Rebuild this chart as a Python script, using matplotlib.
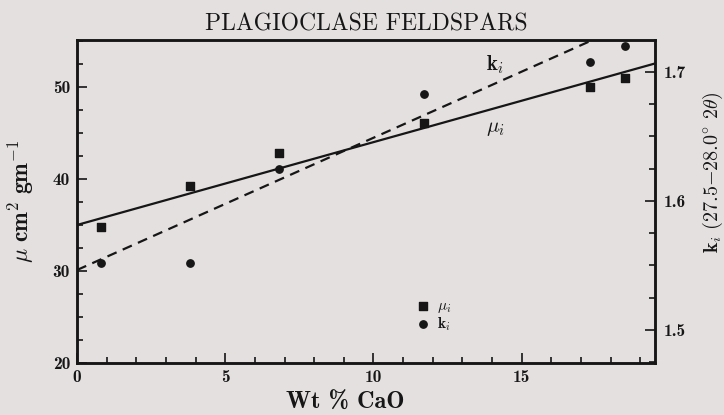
import matplotlib.pyplot as plt
import numpy as np

plt.rcParams['mathtext.fontset'] = 'cm'
plt.rcParams['axes.unicode_minus'] = False

# Wt % CaO for each plagioclase sample
cao = [0.8, 3.8, 6.8, 11.7, 17.3, 18.5]
# mass absorption coefficient (cm^2/gm)
mu = [34.8, 39.2, 42.8, 46.1, 50.0, 51.0]
# k_i intensity ratio, 27.5-28.0 deg 2theta
k = [1.552, 1.552, 1.625, 1.683, 1.708, 1.720]

# fitted lines: intercept, slope
mu_fit = (35.0, 0.90)
k_fit = (1.5465, 0.01025)

ink = '#161616'
bg = '#e4e0e0'
bold_cm = ['cmb10', 'DejaVu Serif']
tick_font = {'family': bold_cm, 'size': 12.5}

fig = plt.figure(figsize=(7.24, 4.15), dpi=100, facecolor=bg)
ax = fig.add_axes([0.1064, 0.1253, 0.7983, 0.7783])
ax.set_facecolor(bg)
ax2 = ax.twinx()

xs = np.array([0, 19.5])
ax.plot(xs, mu_fit[0] + mu_fit[1] * xs, color=ink, lw=1.6, zorder=3)
ax2.plot(xs, k_fit[0] + k_fit[1] * xs, color=ink, lw=1.6, ls=(0, (4.5, 3)), zorder=3)

sq = ax.scatter(cao, mu, marker='s', s=28, color=ink, zorder=4, label=r'$\mu_i$')
ci = ax2.scatter(cao, k, marker='o', s=28, color=ink, zorder=4, label=r'$\mathbf{k}_i$')

ax.set_xlim(0, 19.5)
ax.set_ylim(20, 55.1)
ax2.set_ylim(1.4744, 1.7248)

ax.set_xticks([0, 5, 10, 15])
ax.set_xticks(np.arange(0, 19.5, 1), minor=True)
ax.set_yticks([20, 30, 40, 50])
ax.set_yticks(np.arange(20, 55.1, 2.5), minor=True)
ax2.set_yticks([1.5, 1.6, 1.7])
ax2.set_yticks(np.arange(1.475, 1.725, 0.025), minor=True)

for a in (ax, ax2):
    a.tick_params(which='both', direction='in', color=ink, width=1.2)
    a.tick_params(which='major', length=7)
    a.tick_params(which='minor', length=4)
    for s in a.spines.values():
        s.set_linewidth(1.8)
        s.set_color(ink)
ax.tick_params(axis='x', top=False, pad=5)
ax.tick_params(axis='y', pad=5)
ax2.tick_params(axis='y', pad=6)
ax.set_xticklabels(['0', '5', '10', '15'], fontdict=tick_font, color=ink)
ax.set_yticklabels(['20', '30', '40', '50'], fontdict=tick_font, color=ink)
ax2.set_yticklabels(['1.5', '1.6', '1.7'], fontdict=tick_font, color=ink)

ax.set_xlabel('Wt % CaO', fontfamily=bold_cm, fontsize=17.5, color=ink)
ax.xaxis.set_label_coords(0.464, -0.09)
ax.set_ylabel(r'$\mu\ \mathbf{cm^2\ gm^{-1}}$', fontsize=17, color=ink, labelpad=12)
ax2.set_ylabel(r'$\mathbf{k}_i\ \mathbf{(27.5}$$-$$\mathbf{28.0}^{\circ}$ $\mathbf{2}\theta\mathbf{)}$',
               fontsize=14.5, color=ink)
ax2.yaxis.set_label_coords(1.08, 0.59)
ax.set_title('PLAGIOCLASE FELDSPARS', fontfamily=['cmr10', 'DejaVu Serif'],
             fontsize=17, color=ink, pad=7)

ax.text(14.1, 52.4, r'$\mathbf{k}_i$', fontsize=15, color=ink, ha='center', va='center')
ax.text(14.1, 45.5, r'$\mu_i$', fontsize=15, color=ink, ha='center', va='center')

ax.legend(handles=[sq, ci], loc='center left', bbox_to_anchor=(0.565, 0.147),
          frameon=False, handlelength=0.8, handletextpad=0.5, labelspacing=0.0,
          fontsize=11, labelcolor=ink)

fig.savefig('out.png', dpi=100, facecolor=bg)
